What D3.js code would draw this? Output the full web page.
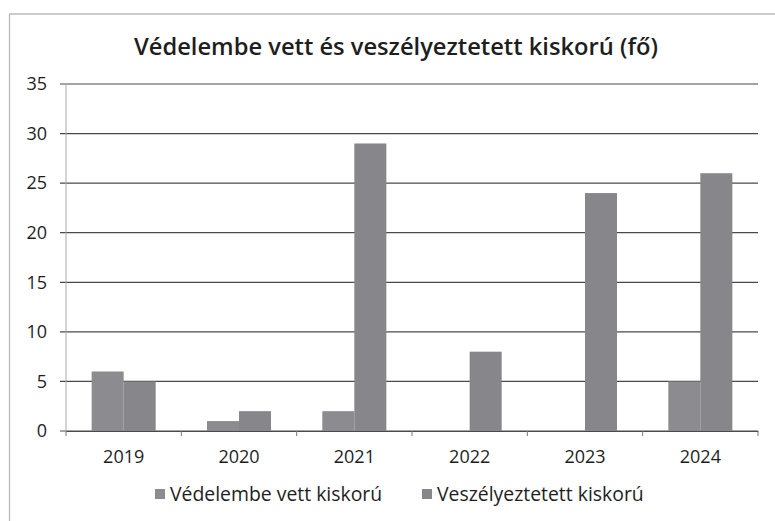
<!DOCTYPE html>
<html>
<head>
<meta charset="utf-8">
<script src="https://cdn.jsdelivr.net/npm/d3@7"></script>
<style>
  body { margin: 0; background: #fff; }
  text { font-family: "Open Sans", "Noto Sans", sans-serif; fill: #1e1e1e; }
</style>
</head>
<body>
<div id="chart"></div>
<script>
// chart data
var years = ["2019", "2020", "2021", "2022", "2023", "2024"];
var seriesNames = ["Védelembe vett kiskorú", "Veszélyeztetett kiskorú"];
var vedelembe = [6, 1, 2, 0, 0, 5];
var veszelyeztetett = [5, 2, 29, 8, 24, 26];
var yTicks = [0, 5, 10, 15, 20, 25, 30, 35];
var colors = ["#8b8b90", "#86868b"];

var width = 775, height = 521;
var margin = {top: 84, right: 17, bottom: 90, left: 66};
var innerW = width - margin.left - margin.right,
    innerH = height - margin.top - margin.bottom;

var svg = d3.select("#chart").append("svg")
    .attr("width", width)
    .attr("height", height);

// outer frame (only top and left visible in the scan)
svg.append("line").attr("x1", 9).attr("x2", 775).attr("y1", 14).attr("y2", 14)
    .attr("stroke", "#9a9a9a").attr("stroke-width", 1.2);
svg.append("line").attr("x1", 9.5).attr("x2", 9.5).attr("y1", 14).attr("y2", 521)
    .attr("stroke", "#b5b5b5").attr("stroke-width", 1.2);

// title
svg.append("text")
    .attr("x", 396).attr("y", 55)
    .attr("text-anchor", "middle")
    .style("font-size", "23.7px")
    .style("font-weight", "600")
    .text("Védelembe vett és veszélyeztetett kiskorú (fő)");

var g = svg.append("g")
    .attr("transform", "translate(" + margin.left + "," + margin.top + ")");

var x0 = d3.scaleBand().domain(years).range([0, innerW]).paddingInner(0.445).paddingOuter(0.2225);
var x1 = d3.scaleBand().domain([0, 1]).range([0, x0.bandwidth()]);
var y = d3.scaleLinear().domain([0, 35]).range([innerH, 0]);

// gridlines
g.append("g")
    .selectAll("line")
    .data(yTicks)
    .enter().append("line")
    .attr("x1", -6).attr("x2", innerW)
    .attr("y1", function(d) { return y(d); })
    .attr("y2", function(d) { return y(d); })
    .attr("stroke", "#4a4a4a")
    .attr("stroke-width", 1.2);

// y labels
g.append("g")
    .selectAll("text")
    .data(yTicks)
    .enter().append("text")
    .attr("x", -19)
    .attr("y", function(d) { return y(d); })
    .attr("dy", "0.35em")
    .attr("text-anchor", "end")
    .style("font-size", "18px")
    .text(function(d) { return d; });

// y axis line
g.append("line").attr("x1", 0).attr("x2", 0).attr("y1", 0).attr("y2", innerH)
    .attr("stroke", "#aaa").attr("stroke-width", 1);

// bars
var rows = years.map(function(yr, i) {
    return {year: yr, values: [vedelembe[i], veszelyeztetett[i]]};
});
g.append("g")
    .selectAll("g")
    .data(rows)
    .enter().append("g")
    .attr("transform", function(d) { return "translate(" + x0(d.year) + ",0)"; })
    .selectAll("rect")
    .data(function(d) { return d.values.map(function(v, k) { return {k: k, v: v}; }); })
    .enter().append("rect")
    .attr("x", function(d) { return x1(d.k); })
    .attr("y", function(d) { return y(d.v); })
    .attr("width", x1.bandwidth())
    .attr("height", function(d) { return innerH - y(d.v); })
    .attr("fill", function(d) { return colors[d.k]; });

// x axis
var xAxis = g.append("g")
    .attr("transform", "translate(0," + innerH + ")")
    .call(d3.axisBottom(x0).tickSize(0).tickPadding(19));
xAxis.select(".domain").attr("stroke", "#4a4a4a").attr("stroke-width", 1.2);
xAxis.selectAll("text").style("font-size", "18px").style("fill", "#1e1e1e");

// category separator ticks
g.append("g")
    .selectAll("line")
    .data(d3.range(years.length + 1))
    .enter().append("line")
    .attr("x1", function(d) { return d * x0.step(); })
    .attr("x2", function(d) { return d * x0.step(); })
    .attr("y1", innerH).attr("y2", innerH + 5)
    .attr("stroke", "#777");

// legend
var legendX = [155, 422];
var legend = svg.append("g")
    .selectAll("g")
    .data(seriesNames)
    .enter().append("g")
    .attr("transform", function(d, i) { return "translate(" + legendX[i] + ",494)"; });
legend.append("rect")
    .attr("x", 0).attr("y", -5).attr("width", 10).attr("height", 10)
    .attr("fill", function(d, i) { return colors[i]; });
legend.append("text")
    .attr("x", 15).attr("dy", "0.35em")
    .style("font-size", "19.4px")
    .text(function(d) { return d; });
</script>
</body>
</html>
